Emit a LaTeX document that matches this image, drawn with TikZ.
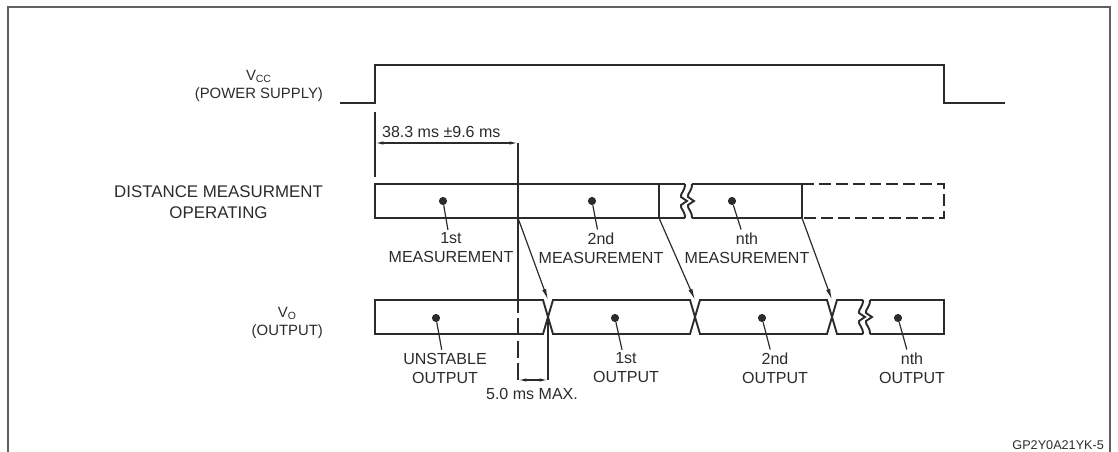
\documentclass[tikz,border=0pt]{standalone}
\usepackage{fontspec}
\setmainfont{Liberation Sans}
\usetikzlibrary{arrows.meta}
\definecolor{ink}{HTML}{2b2b2b}

\begin{document}
\begin{tikzpicture}[x=0.025cm, y=-0.025cm, font=\fontsize{11.4}{13.5}\selectfont,
	sig/.style = {draw=ink, line width=1.35pt},
	frame/.style = {draw=gray!75!black, line width=1.4pt},
	lbl/.style = {text=ink, align=center, inner sep=2pt},
	side/.style = {lbl, anchor=east, font=\fontsize{10.6}{13}\selectfont},
	dot/.style = {circle, fill=ink, inner sep=0pt, minimum size=5.8pt},
	lead/.style = {draw=ink, line width=0.85pt},
	dim/.style = {lead, {Latex[length=6pt,width=2.4pt]}-{Latex[length=6pt,width=2.4pt]}},
	hop/.style = {lead, -{Latex[length=8pt,width=3pt]}}]
	\useasboundingbox (0,0) rectangle (1118,452);

	%% Frame
	\draw[frame] (8,452) -- (8,7) -- (1110,7) -- (1110,452);

	%% Signal names
	\node[side] (vcc) at (326,86) {V\textsubscript{CC}\\(POWER SUPPLY)};
	\node[side, font=\fontsize{12}{14.5}\selectfont] (dmo) at (326,202) {DISTANCE MEASURMENT\\OPERATING};
	\node[side] (vo) at (326,323) {V\textsubscript{O}\\(OUTPUT)};

	%% Power supply trace
	\draw[sig] (340,103) -- (375,103) -- (375,65) -- (944,65) -- (944,103) -- (1005,103);

	%% 38.3 ms window
	\coordinate (t0) at (375,143);
	\coordinate (t1) at (518,143);
	\draw[lead] (375,112) -- (375,177);
	\draw[lead] (t1) -- (518,296);
	\draw[lead, dash pattern=on 12pt off 4pt] (518,296) -- (518,380);
	\draw[dim] (t0) -- (t1);
	\node[lbl, anchor=south west] (win) at (379,141) {38.3 ms ±9.6 ms};

	%% Measurement row
	\draw[sig] (685,184) -- (375,184) -- (375,218) -- (685,218);
	\draw[sig] (692,184) -- (802,184) -- (802,218) -- (692,218);
	\draw[sig] (518,184) -- (518,218);
	\draw[sig] (659,184) -- (659,218);
	\draw[sig] (685,184) .. controls (685,192) and (680,193) .. (681,197) -- (687,201) -- (681,205) .. controls (680,209) and (685,210) .. (685,218);
	\draw[sig] (692,184) .. controls (692,192) and (687,193) .. (688,197) -- (694,201) -- (688,205) .. controls (687,209) and (692,210) .. (692,218);
	\draw[sig, dash pattern=on 8.5pt off 3.5pt] (802,184) -- (944,184) -- (944,218) -- (802,218);

	\node[dot] (dm1) at (443,201) {};
	\node[dot] (dm2) at (592,201) {};
	\node[dot] (dmn) at (732,201) {};
	\node[lbl] (lm1) at (451,248) {1st\\MEASUREMENT};
	\node[lbl] (lm2) at (601,248) {2nd\\MEASUREMENT};
	\node[lbl] (lmn) at (747,248) {nth\\MEASUREMENT};
	\draw[lead] (dm1) -- (lm1);
	\draw[lead] (dm2) -- (lm2);
	\draw[lead] (dmn) -- (lmn);

	%% Output row
	\draw[sig] (548,317) -- (543,300) -- (375,300) -- (375,334) -- (543,334) -- cycle;
	\draw[sig] (548,317) -- (553,300) -- (690,300) -- (695,317) -- (690,334) -- (553,334) -- cycle;
	\draw[sig] (695,317) -- (700,300) -- (827,300) -- (832,317) -- (827,334) -- (700,334) -- cycle;
	\draw[sig] (863,300) -- (837,300) -- (832,317) -- (837,334) -- (863,334);
	\draw[sig] (870,300) -- (944,300) -- (944,334) -- (870,334);
	\draw[sig] (863,300) .. controls (863,308) and (858,309) .. (859,313) -- (865,317) -- (859,321) .. controls (858,325) and (863,326) .. (863,334);
	\draw[sig] (870,300) .. controls (870,308) and (865,309) .. (866,313) -- (872,317) -- (866,321) .. controls (865,325) and (870,326) .. (870,334);

	\node[dot] (do0) at (436,318) {};
	\node[dot] (do1) at (615,318) {};
	\node[dot] (do2) at (762,318) {};
	\node[dot] (don) at (898,318) {};
	\node[lbl] (lo0) at (445,368) {UNSTABLE\\OUTPUT};
	\node[lbl] (lo1) at (626,368) {1st\\OUTPUT};
	\node[lbl] (lo2) at (775,368) {2nd\\OUTPUT};
	\node[lbl] (lon) at (912,368) {nth\\OUTPUT};
	\draw[lead] (do0) -- (lo0);
	\draw[lead] (do1) -- (lo1);
	\draw[lead] (do2) -- (lo2);
	\draw[lead] (don) -- (lon);

	%% Measurement end -> output change
	\coordinate (ms1) at (518,218);
	\coordinate (ms2) at (659,218);
	\coordinate (msn) at (802,218);
	\coordinate (ox1) at (548,300);
	\coordinate (ox2) at (695,300);
	\coordinate (oxn) at (832,300);
	\draw[hop] (ms1) -- (ox1);
	\draw[hop] (ms2) -- (ox2);
	\draw[hop] (msn) -- (oxn);

	%% 5.0 ms delay
	\coordinate (d0) at (518,380);
	\coordinate (d1) at (548,380);
	\draw[lead] (548,317) -- (d1);
	\draw[dim] (d0) -- (d1);
	\node[lbl] (dly) at (532,394) {5.0 ms MAX.};

	\node[lbl, anchor=east, font=\fontsize{9}{10}\selectfont] (tag) at (1107,445) {GP2Y0A21YK-5};
\end{tikzpicture}
\end{document}
